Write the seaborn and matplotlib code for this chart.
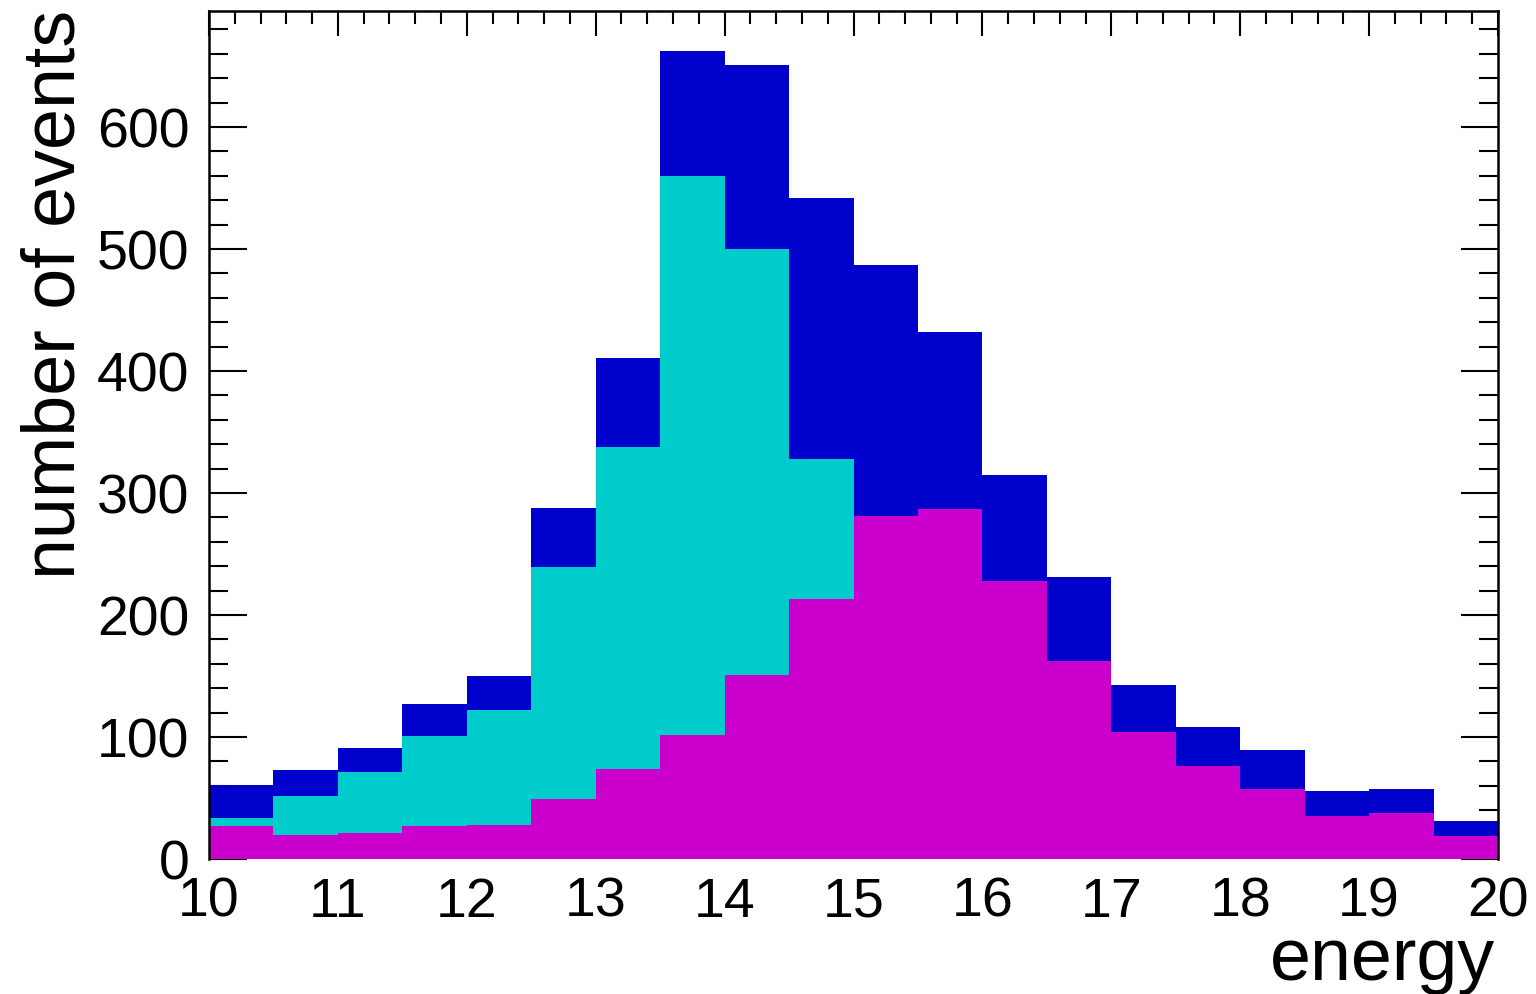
import numpy as np
import pandas as pd
import matplotlib
matplotlib.use("Agg")
import matplotlib.pyplot as plt
from matplotlib.ticker import MultipleLocator
import seaborn as sns

# ---- data (counts per 0.5-wide energy bin, 10 -> 20) ----
bin_edges = [10.0, 10.5, 11.0, 11.5, 12.0, 12.5, 13.0, 13.5, 14.0, 14.5, 15.0,
             15.5, 16.0, 16.5, 17.0, 17.5, 18.0, 18.5, 19.0, 19.5, 20.0]
magenta_counts = [27, 20, 21, 27, 28, 49, 74, 102, 151, 213,
                  281, 287, 228, 162, 104, 76, 57, 35, 38, 19]
cyan_counts = [7, 32, 50, 74, 94, 190, 264, 458, 349, 115,
               0, 0, 0, 0, 0, 0, 0, 0, 0, 0]
blue_counts = [27, 21, 20, 26, 28, 49, 73, 102, 151, 214,
               206, 145, 87, 69, 39, 32, 32, 21, 19, 12]
x_ticks = [10, 11, 12, 13, 14, 15, 16, 17, 18, 19, 20]
y_ticks = [0, 100, 200, 300, 400, 500, 600]

col_magenta = "#cc00cc"
col_cyan = "#00cccc"
col_blue = "#0000cc"

sns.set_style("white")
plt.rcParams["font.family"] = ["Liberation Sans", "DejaVu Sans"]
plt.rcParams["text.color"] = "black"
plt.rcParams["axes.labelcolor"] = "black"
plt.rcParams["xtick.color"] = "black"
plt.rcParams["ytick.color"] = "black"
plt.rcParams["xtick.labelcolor"] = "black"
plt.rcParams["ytick.labelcolor"] = "black"

edges = np.array(bin_edges)
centers = (edges[:-1] + edges[1:]) / 2
stack1 = np.array(magenta_counts)
stack2 = stack1 + np.array(cyan_counts)
stack3 = stack2 + np.array(blue_counts)

fig = plt.figure(figsize=(15.36, 9.95), dpi=100)
W, H = 1536, 995
ax = fig.add_axes([209 / W, 1 - 860 / H, (1498 - 209) / W, (860 - 12) / H])

layers = [(stack3, col_blue), (stack2, col_cyan), (stack1, col_magenta)]
for vals, col in layers:
    df = pd.DataFrame({"energy": centers, "n": vals.astype(float)})
    sns.histplot(data=df, x="energy", weights="n", bins=list(bin_edges),
                 color=col, alpha=1, linewidth=0, edgecolor=col, ax=ax,
                 zorder=1)

ax.set_xlim(10, 20)
ax.set_ylim(0, 695)
ax.set_xticks(x_ticks)
ax.set_xticklabels([str(t) for t in x_ticks])
ax.set_yticks(y_ticks)
ax.set_yticklabels([str(t) for t in y_ticks])
ax.xaxis.set_minor_locator(MultipleLocator(0.2))
ax.yaxis.set_minor_locator(MultipleLocator(20))

ax.tick_params(axis="x", which="both", direction="in", bottom=False, top=True,
               labelbottom=True, labeltop=False, width=1.5, color="black",
               labelcolor="black")
ax.tick_params(axis="x", which="major", length=18, labelsize=40, pad=12)
ax.tick_params(axis="x", which="minor", length=9)
ax.tick_params(axis="y", which="both", direction="in", left=True, right=True,
               width=1.5, color="black", labelcolor="black")
ax.tick_params(axis="y", which="major", length=27, labelsize=40, pad=14)
ax.tick_params(axis="y", which="minor", length=13.5)

for s in ["left", "right", "top"]:
    ax.spines[s].set_visible(True)
    ax.spines[s].set_color("black")
    ax.spines[s].set_linewidth(1.8)
    ax.spines[s].set_zorder(3)
ax.spines["bottom"].set_visible(False)

ax.set_xlabel("energy", fontsize=53, loc="right", color="black")
ax.xaxis.set_label_coords(1.0 - 3 / 1289, (860 - 980) / 848)
ax.xaxis.label.set_va("baseline")

ax.set_ylabel("number of events", fontsize=53, loc="top", color="black")
ax.yaxis.set_label_coords((75 - 209) / 1289, 1.0 + 2 / 848)
ax.yaxis.label.set_va("baseline")

fig.savefig("out.png", dpi=100)
